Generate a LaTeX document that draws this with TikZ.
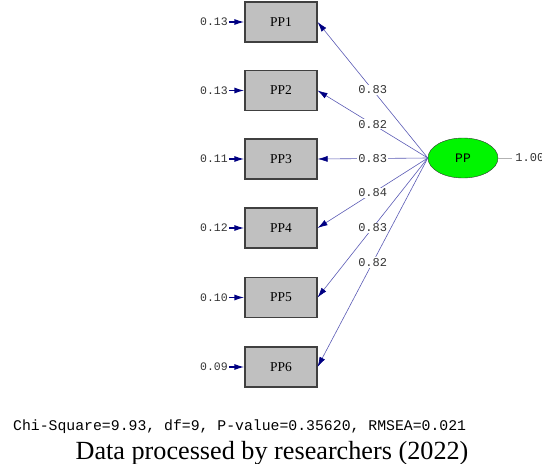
\documentclass[tikz,border=0pt]{standalone}
\usepackage{fontspec}
\setmainfont{Liberation Serif}
\setmonofont{Liberation Mono}
\usetikzlibrary{arrows.meta,positioning,shapes.geometric}
\definecolor{pathblue}{RGB}{90,90,180}
\definecolor{tipblue}{RGB}{0,0,130}
\definecolor{boxgray}{RGB}{192,192,192}
\definecolor{edgegray}{RGB}{64,64,64}
\definecolor{latgreen}{RGB}{0,245,0}

\begin{document}
\begin{tikzpicture}[x=1pt,y=-1pt,
	>={Latex[length=10pt,width=6pt,color=tipblue]},
	obs/.style={draw=edgegray,line width=1.2pt,fill=boxgray,minimum width=72pt,minimum height=40pt,inner sep=0pt,font=\fontsize{13.5}{13.5}\selectfont},
	lat/.style={ellipse,draw=black!80,fill=latgreen,minimum width=70pt,minimum height=40pt,inner sep=0pt,font=\ttfamily\fontsize{13}{13}\selectfont},
	load/.style={fill=white,inner sep=1pt,font=\ttfamily\fontsize{12}{12}\selectfont,text=black!80},
	err/.style={anchor=east,inner sep=1pt,font=\ttfamily\fontsize{11.5}{11.5}\selectfont,text=black!80},
	loadline/.style={->,pathblue,line width=0.6pt},
	errline/.style={->,tipblue,line width=1.3pt}]
	\useasboundingbox (0,0) rectangle (542,464);
	
	% indicators
	\node[obs] (pp1) at (281,22) {PP1};
	\node[obs] (pp2) at (281,90.5) {PP2};
	\node[obs] (pp3) at (281,159) {PP3};
	\node[obs] (pp4) at (281,228) {PP4};
	\node[obs] (pp5) at (281,297.5) {PP5};
	\node[obs] (pp6) at (281,367) {PP6};
	
	% latent variable
	\node[lat] (pp) at (463,158) {PP};
	\coordinate (var) at (512,158);
	\draw[black!30,line width=0.8pt] (pp.east) -- (var) node[right,inner sep=3pt,font=\ttfamily\fontsize{12}{12}\selectfont,text=black!80] {1.00};
	
	% error variances
	\node[err] (e1) at (229,22) {0.13};
	\node[err] (e2) at (229,90.5) {0.13};
	\node[err] (e3) at (229,159) {0.11};
	\node[err] (e4) at (229,228) {0.12};
	\node[err] (e5) at (229,297.5) {0.10};
	\node[err] (e6) at (229,367) {0.09};
	\draw[errline] (e1.east) -- (pp1.west);
	\draw[errline] (e2.east) -- (pp2.west);
	\draw[errline] (e3.east) -- (pp3.west);
	\draw[errline] (e4.east) -- (pp4.west);
	\draw[errline] (e5.east) -- (pp5.west);
	\draw[errline] (e6.east) -- (pp6.west);
	
	% loadings
	\draw[loadline] (pp.west) -- (pp1.east) node[load,pos=0.5] {0.83};
	\draw[loadline] (pp.west) -- (pp2.east) node[load,pos=0.5] {0.82};
	\draw[loadline] (pp.west) -- (pp3.east) node[load,pos=0.5] {0.83};
	\draw[loadline] (pp.west) -- (pp4.east) node[load,pos=0.5] {0.84};
	\draw[loadline] (pp.west) -- (pp5.east) node[load,pos=0.5] {0.83};
	\draw[loadline] (pp.west) -- (pp6.east) node[load,pos=0.5] {0.82};
	
	% fit and source
	\node[anchor=base west,inner sep=0pt,font=\ttfamily\fontsize{14.8}{15}\selectfont] (fit) at (13,430) {Chi-Square=9.93, df=9, P-value=0.35620, RMSEA=0.021};
	\node[anchor=base,inner sep=0pt,font=\fontsize{26.2}{26}\selectfont] (src) at (272,459) {Data processed by researchers (2022)};
\end{tikzpicture}
\end{document}
